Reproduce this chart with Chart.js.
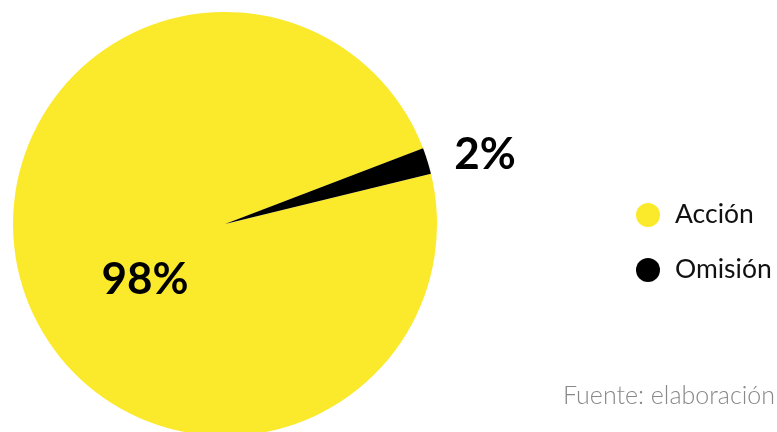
<!DOCTYPE html>
<html>
<head>
<meta charset="utf-8">
<script src="https://cdn.jsdelivr.net/npm/chart.js@4"></script>
<style>
  html, body { margin: 0; padding: 0; background: #ffffff; }
  body { width: 777px; height: 432px; overflow: hidden; position: relative; font-family: 'Lato', sans-serif; }
  #wrap { position: absolute; left: 0; top: 0; width: 777px; height: 440px; }
  .leg { position: absolute; left: 636px; font-size: 26.5px; color: #111; font-weight: 400; line-height: 24px; }
  .leg span.dot { position: absolute; left: 0; top: 0; width: 24px; height: 24px; border-radius: 50%; }
  .leg span.txt { position: absolute; left: 39px; top: -2px; white-space: nowrap; }
  #source { position: absolute; left: 563px; top: 379px; font-size: 25px; color: #888888; white-space: nowrap; font-weight: 300; }
</style>
</head>
<body>
<div id="wrap"><canvas id="pie"></canvas></div>
<div id="legend"></div>
<div id="source">Fuente: elaboración</div>
<script>
const categories = ['Acción', 'Omisión'];
const shares = [98, 2];
const colors = ['#fbe92b', '#000000'];

// legend built from the same arrays
const legend = document.getElementById('legend');
categories.forEach((name, i) => {
    const row = document.createElement('div');
    row.className = 'leg';
    row.style.top = (203 + i * 55) + 'px';
    row.innerHTML = '<span class="dot" style="background:' + colors[i] + '"></span><span class="txt">' + name + '</span>';
    legend.appendChild(row);
});

// percentage labels, placed relative to each arc
const pctLabels = {
    id: 'pctLabels',
    afterDatasetsDraw(chart, args, opts) {
        const ctx = chart.ctx;
        const meta = chart.getDatasetMeta(0);
        ctx.save();
        ctx.font = 'bold 44px Lato';
        ctx.fillStyle = '#000000';
        ctx.textAlign = 'center';
        ctx.textBaseline = 'middle';
        meta.data.forEach((arc, i) => {
            const p = opts.place[i];
            const ang = p.angle * Math.PI / 180;
            const r = arc.outerRadius * p.r;
            ctx.fillText(shares[i] + '%', arc.x + Math.cos(ang) * r, arc.y + Math.sin(ang) * r);
        });
        ctx.restore();
    }
};

new Chart(document.getElementById('pie').getContext('2d'), {
    type: 'pie',
    data: {
        labels: categories,
        datasets: [{
            data: shares,
            backgroundColor: colors,
            borderWidth: 0,
            hoverOffset: 0
        }]
    },
    options: {
        responsive: true,
        maintainAspectRatio: false,
        animation: false,
        rotation: 76.3,
        layout: { padding: { left: 13, top: 12, right: 340, bottom: 4 } },
        plugins: {
            legend: { display: false },
            tooltip: { enabled: false },
            pctLabels: {
                place: [{ angle: 145, r: 0.46 }, { angle: -15, r: 1.27 }]
            }
        }
    },
    plugins: [pctLabels]
});
</script>
</body>
</html>
